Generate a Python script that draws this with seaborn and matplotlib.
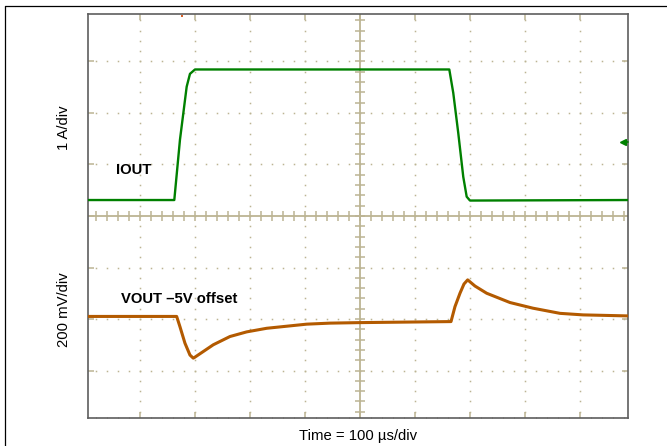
import numpy as np
import pandas as pd
import matplotlib
matplotlib.use("Agg")
import matplotlib.pyplot as plt
import seaborn as sns
from matplotlib.lines import Line2D

# Scope capture.
# time in us (0 = screen centre), amplitude in divisions from centre line
IOUT_T = [-494.5, -337.6, -327.3, -315.1, -309.1, -300.0,
          162.4, 169.6, 178.7, 187.8, 194.0, 200.0, 487.3]
IOUT_V = [0.31, 0.31, 1.48, 2.51, 2.76, 2.845,
          2.845, 2.39, 1.61, 0.76, 0.375, 0.30, 0.31]

VOUT_T = [-494.5, -333.3, -327.3, -318.2, -309.1, -303.1, -300.0,
          -266.7, -236.4, -206.0, -169.6, -133.3, -96.9, -54.5, 0.0,
          165.5, 172.7, 181.8, 189.1, 195.8, 209.1, 230.4, 272.7,
          314.5, 363.6, 405.5, 487.3]
VOUT_V = [-1.95, -1.95, -2.15, -2.47, -2.70, -2.76, -2.74,
          -2.50, -2.34, -2.25, -2.18, -2.14, -2.10, -2.08, -2.07,
          -2.05, -1.76, -1.50, -1.32, -1.24, -1.36, -1.50, -1.68,
          -1.79, -1.89, -1.92, -1.94]

IOUT_LABEL = "IOUT"
VOUT_LABEL = "VOUT \u20135V offset"
Y_TOP_LABEL = "1 A/div"
Y_BOT_LABEL = "200 mV/div"
X_LABEL = "Time = 100 \u00b5s/div"

GREEN = "#008000"
BROWN = "#b35a00"
TAN = "#bcb493"
FRAME = "#5e5e5e"

W, H = 667, 446


def fx(px):
    return px / W


def fy(py):
    return 1 - py / H


def main():
    sns.set_style("white")
    plt.rcParams["font.family"] = ["Liberation Sans", "DejaVu Sans"]

    fig = plt.figure(figsize=(W / 100, H / 100), dpi=100)
    ax = fig.add_axes([fx(88), fy(418), 540 / W, 404 / H])

    xmin, xmax = -494.5, 487.3
    ymin, ymax = -3.922, 3.922

    # ── graticule ────────────────────────────────────────────────────────────
    minor_x = np.arange(-480, 481, 20)
    minor_y = np.round(np.arange(-3.8, 3.81, 0.2), 2)
    for yv in [-3, -2, -1, 1, 2, 3]:
        ax.plot(minor_x, np.full(minor_x.shape, yv), ls="none", marker="s",
                ms=1.1, mew=0, color=TAN, zorder=1)
    for xv in [-400, -300, -200, -100, 100, 200, 300, 400]:
        ax.plot(np.full(minor_y.shape, xv), minor_y, ls="none", marker="s",
                ms=1.1, mew=0, color=TAN, zorder=1)

    ax.axhline(0, color=TAN, lw=1.3, zorder=1)
    ax.axvline(0, color=TAN, lw=1.3, zorder=1)
    ax.vlines(minor_x, -0.1, 0.1, color=TAN, lw=1.1, zorder=1)
    ax.hlines(minor_y, -9.5, 9.5, color=TAN, lw=1.1, zorder=1)

    # ── traces ───────────────────────────────────────────────────────────────
    iout = pd.DataFrame({"t": IOUT_T, "v": IOUT_V})
    vout = pd.DataFrame({"t": VOUT_T, "v": VOUT_V})
    sns.lineplot(data=iout, x="t", y="v", ax=ax, color=GREEN, lw=1.7,
                 estimator=None, zorder=3)
    sns.lineplot(data=vout, x="t", y="v", ax=ax, color=BROWN, lw=2.2,
                 estimator=None, zorder=3)

    # channel offset marker and trigger position marker
    ax.plot([478, xmax], [1.443, 1.443], color=GREEN, lw=1.2, zorder=4,
            clip_on=False)
    ax.plot([478], [1.443], marker="<", ms=5, color=GREEN, zorder=4,
            clip_on=False)
    ax.plot([-324], [ymax - 0.03], marker="s", ms=2, mew=0, color="#d9622b",
            zorder=4, clip_on=False)

    ax.set_xlim(xmin, xmax)
    ax.set_ylim(ymin, ymax)
    ax.set_xticks(np.arange(-400, 401, 100))
    ax.set_yticks(np.arange(-3, 4, 1))
    ax.set_xticks(minor_x, minor=True)
    ax.tick_params(which="major", direction="in", length=4.5, width=1.1,
                   color=TAN, top=True, right=True, bottom=True, left=True,
                   labelbottom=False, labelleft=False)
    ax.tick_params(which="minor", direction="in", length=1.0, width=0.8,
                   color="#9a957f", top=False, right=False, bottom=True,
                   left=False)
    ax.set_xlabel("")
    ax.set_ylabel("")
    for sp in ax.spines.values():
        sp.set_color(FRAME)
        sp.set_linewidth(1.2)
        sp.set_visible(True)

    # ── text ─────────────────────────────────────────────────────────────────
    fs = 10.7
    fig.text(fx(116), fy(174), IOUT_LABEL, ha="left", va="baseline",
             fontsize=fs, weight="bold", color="black")
    fig.text(fx(120.7), fy(303.3), VOUT_LABEL, ha="left", va="baseline",
             fontsize=fs, weight="bold", color="black")
    fig.text(fx(64), fy(128), Y_TOP_LABEL, ha="center", va="center",
             rotation=90, fontsize=fs, color="black")
    fig.text(fx(64), fy(310), Y_BOT_LABEL, ha="center", va="center",
             rotation=90, fontsize=fs, color="black")
    fig.text(fx(358), fy(440), X_LABEL, ha="center", va="baseline",
             fontsize=fs, color="black")

    # outer frame (only top and left visible in the crop)
    fig.add_artist(Line2D([fx(5.3), fx(5.3)], [0, fy(6.3)], color="black",
                          lw=0.9))
    fig.add_artist(Line2D([fx(5.3), 1], [fy(6.3), fy(6.3)], color="black",
                          lw=0.9))

    fig.savefig("out.png", dpi=100)


if __name__ == "__main__":
    main()
